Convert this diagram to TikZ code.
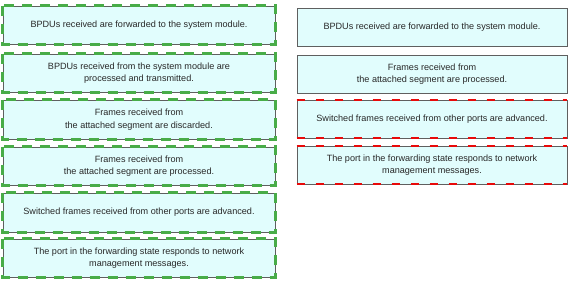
\documentclass[tikz,border=0pt]{standalone}
\usepackage{fontspec}
\setmainfont{Liberation Sans}
\definecolor{boxfill}{RGB}{225,253,253}
\definecolor{boxline}{RGB}{95,95,95}
\definecolor{gdash}{RGB}{72,172,72}
\definecolor{rdash}{RGB}{232,10,10}
\definecolor{txt}{RGB}{40,40,40}
\begin{document}
\begin{tikzpicture}[x=1pt,y=-1pt,
  card/.style={draw=boxline,line width=0.9pt,fill=boxfill,inner sep=0pt,
    align=center,text=txt,font=\fontsize{9.1}{12.5}\selectfont},
  lcard/.style={card,minimum width=272pt},
  rcard/.style={card,minimum width=270pt},
  greenmark/.style={draw=gdash,line width=2.8pt,dash pattern=on 10pt off 8pt},
  redmark/.style={draw=rdash,line width=2pt,dash pattern=on 8pt off 11pt}]
\useasboundingbox[fill=white] (0,0) rectangle (573,283);
% left column
\node[lcard,minimum height=38pt] (L1) at (139,25) {BPDUs received are forwarded to the system module.};
\node[lcard,minimum height=38pt] (L2) at (139,73) {BPDUs received from the system module are\\processed and transmitted.};
\node[lcard,minimum height=39pt] (L3) at (139,119.5) {Frames received from\\the attached segment are discarded.};
\node[lcard,minimum height=38pt] (L4) at (139,166) {Frames received from\\the attached segment are processed.};
\node[lcard,minimum height=39pt] (L5) at (139,212.5) {Switched frames received from other ports are advanced.};
\node[lcard,minimum height=38pt] (L6) at (139,258) {The port in the forwarding state responds to network\\management messages.};
\foreach \n in {L1,L2,L3,L4,L5,L6}
  \draw[greenmark] (\n.north west) rectangle (\n.south east);
% right column
\node[rcard,minimum height=38pt] (R1) at (432,27) {BPDUs received are forwarded to the system module.};
\node[rcard,minimum height=38pt] (R2) at (432,74) {Frames received from\\the attached segment are processed.};
\node[rcard,minimum height=38pt] (R3) at (432,119) {Switched frames received from other ports are advanced.};
\node[rcard,minimum height=38pt] (R4) at (432,165) {The port in the forwarding state responds to network\\management messages.};
\foreach \n in {R3,R4}{
  \draw[redmark] (\n.north west) -- (\n.north east);
  \draw[redmark] (\n.south west) -- (\n.south east);
}
\end{tikzpicture}
\end{document}
